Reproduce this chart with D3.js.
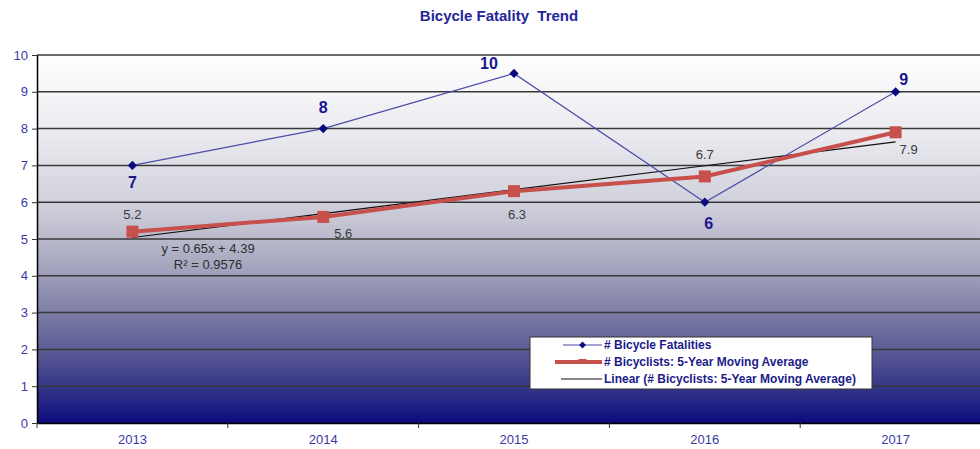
<!DOCTYPE html>
<html><head><meta charset="utf-8">
<script src="https://cdn.jsdelivr.net/npm/d3@7"></script>
<style>
body{margin:0;background:#fff;overflow:hidden}
svg{display:block;font-family:"Liberation Sans",Arial,sans-serif}
</style>
</head><body>
<svg id="c" width="980" height="449"></svg>
<script>
// ---- data ----
const years = ["2013", "2014", "2015", "2016", "2017"];
const fatalities = [7, 8, 9.5, 6, 9];
const movingAvg = [5.2, 5.6, 6.3, 6.7, 7.9];
const trendSlope = 0.65;
const trendIntercept = 4.39;
const trendText = ["y = 0.65x + 4.39", "R\u00b2 = 0.9576"];
const yTicks = [0, 1, 2, 3, 4, 5, 6, 7, 8, 9, 10];
const legendLabels = ["# Bicycle Fatalities", "# Bicyclists: 5-Year Moving Average", "Linear (# Bicyclists: 5-Year Moving Average)"];
const title = "Bicycle Fatality  Trend";

// ---- label placement (style, not data) ----
const fatalLabelOffset = [[0, 17], [0, -21], [-25, -10], [4, 21], [8, -13]];
const maLabelOffset = [[0, -17], [20, 16], [3, 23], [0, -22], [13, 17]];

const svg = d3.select("#c");
const L = 37, R = 991, T = 55, B = 423;
const x = d3.scaleBand().domain(years).range([L, R]);
const y = d3.scaleLinear().domain([0, 10]).range([B, T]);
const cx = d => x(d) + x.bandwidth() / 2;

// gradient background
const defs = svg.append("defs");
const g = defs.append("linearGradient").attr("id", "bg").attr("x1", 0).attr("y1", 0).attr("x2", 0).attr("y2", 1);
[[0, "#ffffff"], [0.2, "#ececf1"], [0.4, "#d1d1dc"], [0.5, "#babacc"], [0.6, "#9e9eba"], [0.7, "#7e7ea7"], [0.8, "#5c5c95"], [0.9, "#363688"], [1, "#0b0b7d"]]
  .forEach(s => g.append("stop").attr("offset", s[0]).attr("stop-color", s[1]));
svg.append("rect").attr("x", L).attr("y", T).attr("width", R - L).attr("height", B - T).attr("fill", "url(#bg)");

// gridlines
svg.append("g").selectAll("line").data(yTicks.filter(v => v > 0)).join("line")
  .attr("x1", L).attr("x2", R).attr("y1", d => y(d)).attr("y2", d => y(d))
  .attr("stroke", "#383838").attr("stroke-width", 1.5);

// y axis
const ya = svg.append("g").attr("transform", `translate(${L},0)`)
  .call(d3.axisLeft(y).tickValues(yTicks).tickSize(5).tickPadding(4).tickSizeOuter(0));
ya.select(".domain").attr("stroke", "#000").attr("stroke-width", 1.5);
ya.selectAll(".tick line").attr("stroke", "#333");
ya.selectAll("text").attr("fill", "#3a3aa6").attr("font-size", 13).attr("font-family", "Liberation Sans, Arial, sans-serif");

// x axis
const xa = svg.append("g").attr("transform", `translate(0,${B})`)
  .call(d3.axisBottom(x).tickSize(0).tickPadding(12).tickSizeOuter(0));
xa.select(".domain").attr("stroke", "#000").attr("stroke-width", 1.5);
xa.selectAll("text").attr("fill", "#3a3aa6").attr("font-size", 13).attr("font-family", "Liberation Sans, Arial, sans-serif");
svg.append("g").selectAll("line").data(years).join("line")
  .attr("x1", d => x(d)).attr("x2", d => x(d)).attr("y1", B).attr("y2", B + 5)
  .attr("stroke", "#333");

// trendline
const trend = years.map((d, i) => trendIntercept + trendSlope * (i + 1));
svg.append("path").datum(trend)
  .attr("d", d3.line().x((d, i) => cx(years[i])).y(d => y(d)))
  .attr("fill", "none").attr("stroke", "#111").attr("stroke-width", 1.2);

// fatalities line
svg.append("path").datum(fatalities)
  .attr("d", d3.line().x((d, i) => cx(years[i])).y(d => y(d)))
  .attr("fill", "none").attr("stroke", "#4b4baa").attr("stroke-width", 1.2);
svg.append("g").selectAll("path").data(fatalities).join("path")
  .attr("transform", (d, i) => `translate(${cx(years[i])},${y(d)})`)
  .attr("d", d3.symbol(d3.symbolDiamond2, 55))
  .attr("fill", "#0b0b80");

// moving average line
svg.append("path").datum(movingAvg)
  .attr("d", d3.line().x((d, i) => cx(years[i])).y(d => y(d)))
  .attr("fill", "none").attr("stroke", "#c8504c").attr("stroke-width", 4);
svg.append("g").selectAll("rect").data(movingAvg).join("rect")
  .attr("x", (d, i) => cx(years[i]) - 6).attr("y", d => y(d) - 6)
  .attr("width", 12).attr("height", 12).attr("fill", "#c8504c");

// fatality labels
svg.append("g").selectAll("text").data(fatalities).join("text")
  .attr("x", (d, i) => cx(years[i]) + fatalLabelOffset[i][0])
  .attr("y", (d, i) => y(d) + fatalLabelOffset[i][1])
  .attr("dy", "0.36em").attr("text-anchor", "middle")
  .attr("font-size", 16).attr("font-weight", "bold").attr("fill", "#16168c")
  .text(d => Math.round(d));

// moving average labels
svg.append("g").selectAll("text").data(movingAvg).join("text")
  .attr("x", (d, i) => cx(years[i]) + maLabelOffset[i][0])
  .attr("y", (d, i) => y(d) + maLabelOffset[i][1])
  .attr("dy", "0.36em").attr("text-anchor", "middle")
  .attr("font-size", 13).attr("fill", "#3a3a3a")
  .text(d => d3.format(".1f")(d));

// trend equation
svg.append("g").selectAll("text").data(trendText).join("text")
  .attr("x", 208).attr("y", (d, i) => 248 + i * 16)
  .attr("dy", "0.36em").attr("text-anchor", "middle")
  .attr("font-size", 13).attr("fill", "#2e2e2e")
  .text(d => d);

// title
svg.append("text").attr("x", 499).attr("y", 21).attr("text-anchor", "middle")
  .attr("font-size", 15).attr("font-weight", "bold").attr("fill", "#25259a")
  .style("white-space", "pre").text(title);

// legend
const lg = svg.append("g");
lg.append("rect").attr("x", 530).attr("y", 337).attr("width", 342).attr("height", 52)
  .attr("fill", "#fff").attr("stroke", "#333").attr("stroke-width", 1);
const rowY = [345, 362, 379];
const lx1 = 563, lx2 = 602, lm = (lx1 + lx2) / 2;
lg.append("line").attr("x1", lx1).attr("x2", lx2).attr("y1", rowY[0]).attr("y2", rowY[0]).attr("stroke", "#4b4baa").attr("stroke-width", 1.2);
lg.append("path").attr("transform", `translate(${lm},${rowY[0]})`).attr("d", d3.symbol(d3.symbolDiamond2, 30)).attr("fill", "#0b0b80");
lg.append("line").attr("x1", lx1 - 8).attr("x2", lx2).attr("y1", rowY[1]).attr("y2", rowY[1]).attr("stroke", "#c8504c").attr("stroke-width", 4);
lg.append("rect").attr("x", lm - 4).attr("y", rowY[1] - 3).attr("width", 8).attr("height", 5).attr("fill", "#c8504c");
lg.append("line").attr("x1", lx1 - 2).attr("x2", lx2).attr("y1", rowY[2]).attr("y2", rowY[2]).attr("stroke", "#111").attr("stroke-width", 1.2);
lg.selectAll("text").data(legendLabels).join("text")
  .attr("x", 604).attr("y", (d, i) => rowY[i]).attr("dy", "0.36em")
  .attr("font-size", 12).attr("font-weight", "bold").attr("fill", "#1c1c8a")
  .text(d => d);
</script>
</body></html>
